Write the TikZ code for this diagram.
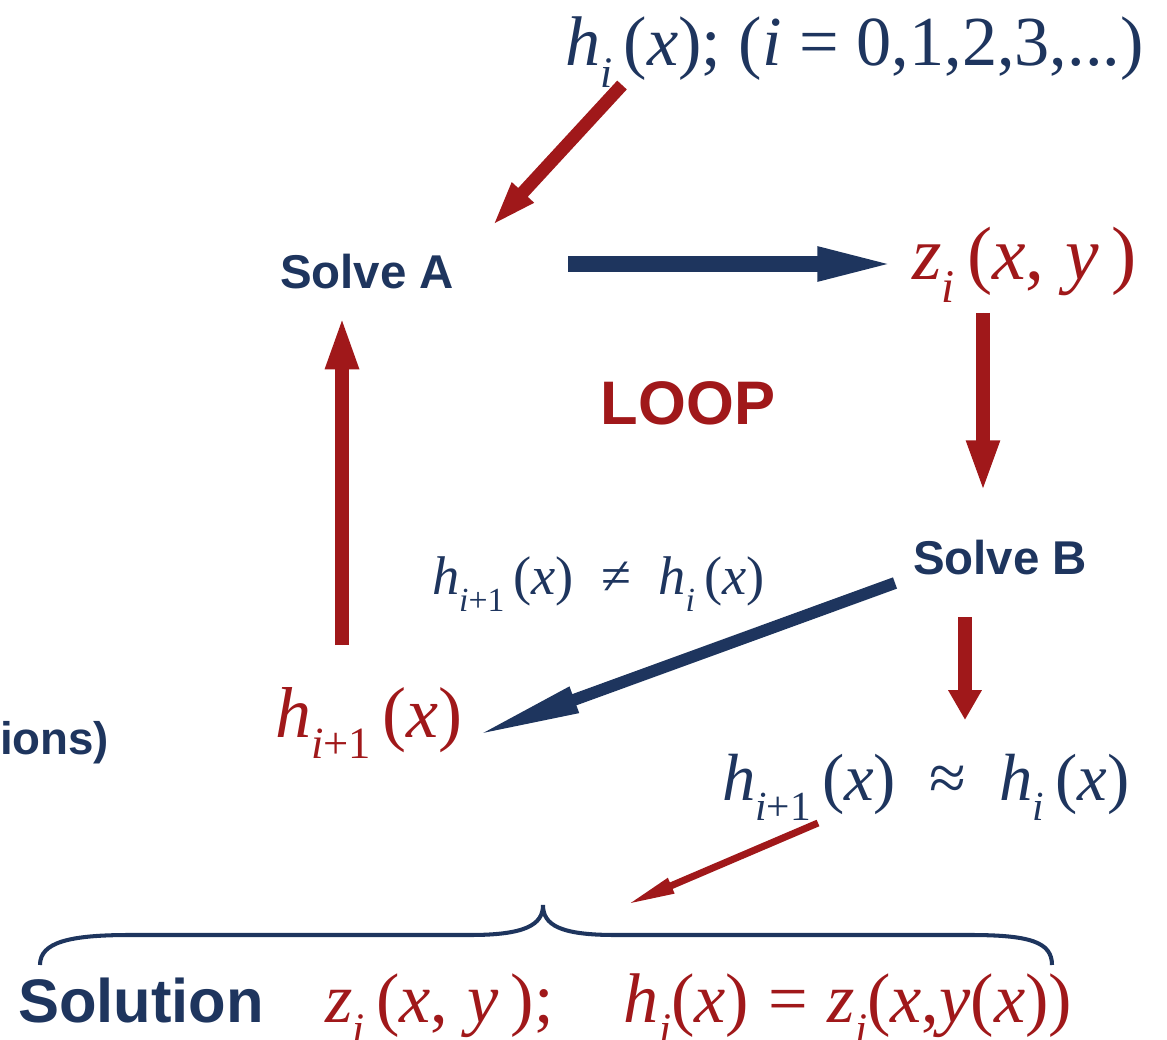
\documentclass[tikz,border=0pt]{standalone}
\usepackage{fontspec}
\usepackage{graphicx}
\setmainfont{Liberation Serif}
\newfontfamily\sansb{Liberation Sans}
\usetikzlibrary{arrows.meta}
\definecolor{navy}{HTML}{1E355E}
\definecolor{dred}{HTML}{A0181A}
\newcommand\fs[1]{\fontsize{#1}{#1}\selectfont}
\newcommand\dn[1]{\raisebox{-0.3em}{\scalebox{0.62}{#1}}}
\newcommand\vi[1]{\textit{#1}}
\tikzset{
  lbl/.style={inner sep=0pt, outer sep=0pt},
  sanslbl/.style={lbl, font=\sansb\bfseries\fs{#1}},
  arr/.style n args={4}{line width=#1pt, -{Triangle[length=#2pt,width=#3pt]}, draw=#4, fill=#4},
}
\begin{document}
\begin{tikzpicture}[x=0.02cm,y=-0.02cm]
\useasboundingbox (0,0) rectangle (1167,1040);
% texts
\node[lbl, navy, font=\fs{40}, anchor=base west] (top) at (565,66)
  {\vi{h}\dn{\vi{i}}\,(\vi{x}); (\vi{i} = 0,1,2,3,...)};
\node[sanslbl=27, navy] (solveA) at (367,272) {Solve A};
\node[lbl, dred, font=\fs{43}, anchor=base west] (z) at (912,280)
  {\vi{z}\dn{\vi{i}}\,(\vi{x},\;\vi{y}\,)};
\node[sanslbl=35, dred] (loop) at (688,403) {LOOP};
\node[sanslbl=27, navy] (solveB) at (1000,558) {Solve B};
\node[lbl, navy, font=\fs{31}, anchor=base west] (neq) at (432,595)
  {\vi{h}\dn{\vi{i}+1}\,(\vi{x})\enspace≠\enspace\vi{h}\dn{\vi{i}}\,(\vi{x})};
\node[lbl, dred, font=\fs{41}, anchor=base west] (hnext) at (275,737)
  {\vi{h}\dn{\vi{i}+1}\,(\vi{x})};
\node[sanslbl=26, navy, anchor=west] (ions) at (0,743) {ions)};
\node[lbl, navy, font=\fs{38}, anchor=base west] (approx) at (722,800)
  {\vi{h}\dn{\vi{i}+1}\,(\vi{x})\enspace≈\enspace\vi{h}\dn{\vi{i}}\,(\vi{x})};
\node[sanslbl=35, navy, anchor=base west] (sol) at (18,1022) {Solution};
\node[lbl, dred, font=\fs{40}, anchor=base west] (solf) at (325,1022)
  {\vi{z}\dn{\vi{i}}\,(\vi{x},\;\vi{y}\,);\quad \vi{h}\dn{\vi{i}}(\vi{x})\;=\;\vi{z}\dn{\vi{i}}(\vi{x},\vi{y}(\vi{x}))};
% connector end points
\coordinate (a1s) at (622,85);   \coordinate (a1e) at (492,226);
\coordinate (a2s) at (568,264);  \coordinate (a2e) at (900,264);
\coordinate (a3s) at (983,313);  \coordinate (a3e) at (983,493);
\coordinate (a4s) at (342,645);  \coordinate (a4e) at (342,315);
\coordinate (a5s) at (895,583);  \coordinate (a5e) at (472,737);
\coordinate (a6s) at (965,617);  \coordinate (a6e) at (965,720);
\coordinate (a7s) at (818,823);  \coordinate (a7e) at (626,905);
% connectors
\draw[arr={7.4}{26}{15}{dred}] (a1s) -- (a1e);
\draw[arr={9.1}{47}{17}{navy}] (a2s) -- (a2e);
\draw[arr={8}{30}{17}{dred}] (a3s) -- (a3e);
\draw[arr={8.5}{31}{17}{dred}] (a4s) -- (a4e);
\draw[arr={6.8}{62}{14}{navy}] (a5s) -- (a5e);
\draw[arr={8}{17}{18}{dred}] (a6s) -- (a6e);
\draw[arr={4}{28}{8.5}{dred}] (a7s) -- (a7e);
% brace
\draw[navy, line width=2.3pt]
  (40,965) .. controls (40,942) and (70,935) .. (130,935) -- (470,935)
  .. controls (525,935) and (543,925) .. (543,905)
  .. controls (543,925) and (560,935) .. (615,935) -- (970,935)
  .. controls (1030,935) and (1052,942) .. (1052,965);
\end{tikzpicture}
\end{document}
